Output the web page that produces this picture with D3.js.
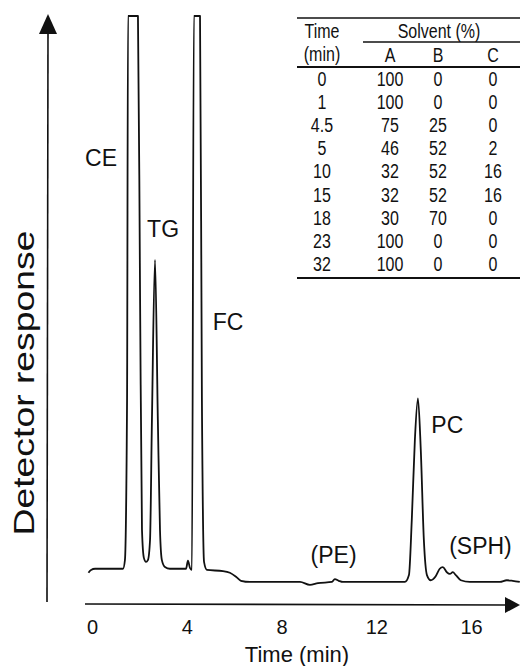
<!DOCTYPE html>
<html>
<head>
<meta charset="utf-8">
<script src="https://cdn.jsdelivr.net/npm/d3@7"></script>
<style>
  html, body { margin: 0; padding: 0; background: #fff; }
  svg { display: block; }
  text { fill: #111; }
</style>
</head>
<body>
<svg id="chart" width="520" height="666"></svg>
<script>
// chromatogram trace (time in min, response in % of full scale)
var traceTime = [-0.15, -0.04, 0.13, 1.31, 1.39, 1.48, 1.52, 1.94, 2.03, 2.11, 2.19, 2.28, 2.36,
  2.45, 2.53, 2.66, 2.78, 2.87, 2.95, 3.08, 3.29, 3.97, 4.05, 4.14, 4.22, 4.30, 4.56, 4.64,
  4.73, 4.85, 5.53, 5.82, 6.08, 6.29, 6.67, 8.78, 9.20, 9.54, 10.13, 10.25, 10.42, 10.59,
  13.21, 13.38, 13.50, 13.63, 13.76, 13.88, 14.01, 14.14, 14.30, 14.51, 14.68, 14.81, 14.98,
  15.11, 15.23, 15.36, 15.57, 15.95, 17.22, 17.51, 17.76, 18.06];
var traceResponse = [3.0, 3.5, 3.7, 3.7, 5.2, 33.1, 100, 100, 50.5, 10.5, 5.6, 4.9, 5.2,
  8.7, 29.6, 57.5, 29.6, 10.5, 5.2, 4.0, 3.7, 3.7, 5.1, 3.8, 3.5, 100, 100, 33.1,
  4.9, 3.5, 3.3, 3.0, 2.3, 1.6, 1.4, 1.4, 0.9, 1.2, 1.4, 1.9, 1.6, 1.4,
  1.4, 2.6, 12.2, 26.1, 33.4, 24.4, 8.7, 2.6, 1.7, 2.4, 3.7, 4.0, 3.1,
  2.8, 3.1, 2.6, 1.7, 1.4, 1.4, 1.7, 1.6, 1.4];

// peak labels
var peakNames = ["CE", "TG", "FC", "(PE)", "PC", "(SPH)"];
var peakLabelTime = [0.38, 3.0, 5.74, 10.2, 15.0, 16.4];
var peakLabelResponse = [73.9, 61.5, 45.3, 4.7, 27.4, 6.2];

var xTicks = [0, 4, 8, 12, 16];

// gradient table
var tableTime = ["0", "1", "4.5", "5", "10", "15", "18", "23", "32"];
var solventA = [100, 100, 75, 46, 32, 32, 30, 100, 100];
var solventB = [0, 0, 25, 52, 52, 52, 70, 0, 0];
var solventC = [0, 0, 0, 2, 16, 16, 0, 0, 0];

var svg = d3.select("#chart");

var x = d3.scaleLinear().domain([0, 16]).range([92, 471]);
var y = d3.scaleLinear().domain([0, 100]).range([590, 16]);

var sansFont = "'Liberation Sans', Arial, sans-serif";

// axes drawn as arrows
var axes = svg.append("g").attr("class", "axes");

axes.append("line")
  .attr("x1", 47).attr("y1", 602)
  .attr("x2", 48).attr("y2", 30)
  .attr("stroke", "#111").attr("stroke-width", 1.6);
axes.append("path")
  .attr("d", "M48,14 L39,34 L57,34 Z")
  .attr("fill", "#111");

axes.append("line")
  .attr("x1", 85).attr("y1", 604)
  .attr("x2", 508).attr("y2", 605)
  .attr("stroke", "#111").attr("stroke-width", 1.6);
axes.append("path")
  .attr("d", "M520,605 L505,597 L505,613 Z")
  .attr("fill", "#111");

// tick labels only, no tick marks
var xAxis = svg.append("g")
  .attr("transform", "translate(0,618)")
  .call(d3.axisBottom(x).tickValues(xTicks).tickSize(0).tickPadding(2));
xAxis.select(".domain").remove();
xAxis.selectAll("text")
  .attr("font-family", sansFont)
  .attr("font-size", 20)
  .attr("fill", "#111");

svg.append("text")
  .attr("x", 297).attr("y", 662)
  .attr("text-anchor", "middle")
  .attr("font-family", sansFont)
  .attr("font-size", 22)
  .text("Time (min)");

svg.append("text")
  .attr("transform", "translate(34,383) rotate(-90)")
  .attr("text-anchor", "middle")
  .attr("font-family", sansFont)
  .attr("font-size", 29)
  .attr("textLength", 305)
  .attr("lengthAdjust", "spacingAndGlyphs")
  .text("Detector response");

// the trace
var points = traceTime.map((t, i) => [t, traceResponse[i]]);
var line = d3.line()
  .x(d => x(d[0]))
  .y(d => y(d[1]))
  .curve(d3.curveMonotoneX);

svg.append("path")
  .datum(points)
  .attr("d", line)
  .attr("fill", "none")
  .attr("stroke", "#111")
  .attr("stroke-width", 1.8)
  .attr("stroke-linejoin", "round");

// peak labels
svg.append("g").selectAll("text")
  .data(peakNames)
  .enter()
  .append("text")
  .attr("x", (d, i) => x(peakLabelTime[i]))
  .attr("y", (d, i) => y(peakLabelResponse[i]))
  .attr("text-anchor", "middle")
  .attr("font-family", sansFont)
  .attr("font-size", 23)
  .text(d => d);

// gradient table, condensed type
var table = svg.append("g").attr("font-family", sansFont).attr("font-size", 20);
var colX = [322, 390, 438, 493];
var rowY0 = 86, rowStep = 23.1;
var squeeze = 0.8;

function cell(tx, ty, str) {
  table.append("text")
    .attr("transform", "translate(" + tx + "," + ty + ") scale(" + squeeze + ",1)")
    .attr("text-anchor", "middle")
    .text(str);
}

table.append("line").attr("x1", 297).attr("x2", 520).attr("y1", 18).attr("y2", 18)
  .attr("stroke", "#111").attr("stroke-width", 1.6);
table.append("line").attr("x1", 363).attr("x2", 520).attr("y1", 42).attr("y2", 42)
  .attr("stroke", "#111").attr("stroke-width", 1.6);
table.append("line").attr("x1", 297).attr("x2", 520).attr("y1", 67).attr("y2", 67)
  .attr("stroke", "#111").attr("stroke-width", 1.8);
table.append("line").attr("x1", 297).attr("x2", 520).attr("y1", 278).attr("y2", 278)
  .attr("stroke", "#111").attr("stroke-width", 2);

cell(colX[0], 38, "Time");
cell(colX[0], 61, "(min)");
cell(439, 38, "Solvent (%)");
["A", "B", "C"].forEach((h, i) => cell(colX[i + 1], 62, h));

var columns = [tableTime, solventA, solventB, solventC];
columns.forEach((col, c) => {
  col.forEach((d, i) => cell(colX[c], rowY0 + i * rowStep, d));
});
</script>
</body>
</html>
